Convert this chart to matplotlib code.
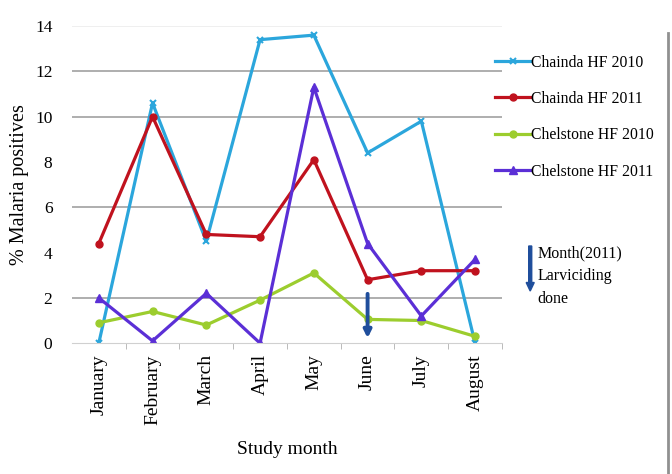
import numpy as np
import matplotlib.pyplot as plt
from matplotlib.lines import Line2D
from matplotlib.patches import FancyArrow

# data
months = ['January', 'February', 'March', 'April', 'May', 'June', 'July', 'August']
chainda_2010 = [0.0, 10.6, 4.5, 13.4, 13.6, 8.4, 9.8, 0.0]
chainda_2011 = [4.4, 10.0, 4.8, 4.7, 8.1, 2.8, 3.2, 3.2]
chelstone_2010 = [0.9, 1.4, 0.8, 1.9, 3.1, 1.05, 1.0, 0.3]
chelstone_2011 = [2.0, 0.1, 2.2, 0.0, 11.3, 4.4, 1.2, 3.7]
yticks = [0, 2, 4, 6, 8, 10, 12, 14]
grid_levels = [2, 6, 10, 12]
larvicide_month = 'June'
larvicide_range = [2.3, 0.1]

plt.rcParams['font.family'] = ['Liberation Serif', 'DejaVu Serif']

fig = plt.figure(figsize=(6.72, 4.74), dpi=100)
ax = fig.add_axes([0.107, 0.276, 0.64, 0.669])

x = np.arange(len(months))

for g in grid_levels:
    ax.axhline(g, color='#a8a8a8', lw=1.3, zorder=0)
ax.axhline(14, color='#eeeeee', lw=1.3, zorder=0)

ax.plot(x, chainda_2010, color='#2ba6dc', lw=2.3, marker='x', ms=5, mew=1.5, label='Chainda HF 2010')
ax.plot(x, chainda_2011, color='#c0121e', lw=2.3, marker='o', ms=5, label='Chainda HF 2011')
ax.plot(x, chelstone_2010, color='#9ccd2e', lw=2.3, marker='o', ms=5, label='Chelstone HF 2010')
ax.plot(x, chelstone_2011, color='#5b2fd6', lw=2.3, marker='^', ms=5.5, label='Chelstone HF 2011')

# larviciding arrow
xi = months.index(larvicide_month)
ax.annotate('', xy=(xi, larvicide_range[1]), xytext=(xi, larvicide_range[0]),
            arrowprops=dict(arrowstyle='-|>', color='#1f4e9c', lw=2.8, mutation_scale=11))

ax.set_xlim(-0.5, len(months) - 0.5)
ax.set_ylim(0, 14)
ax.set_xticks(x)
ax.set_xticklabels(months, rotation=90, fontsize=14)
ax.set_xticks(np.arange(-0.5, len(months), 1)[1:], minor=True)
ax.tick_params(axis='x', which='major', length=0, pad=8)
ax.tick_params(axis='x', which='minor', length=4, color='#b0b0b0')
ax.set_yticks(yticks)
ax.tick_params(axis='y', length=0, labelsize=12.5, pad=14)
for s in ['top', 'right', 'left']:
    ax.spines[s].set_visible(False)
ax.spines['bottom'].set_color('#d0d0d0')

ax.set_ylabel('% Malaria positives', fontsize=14.5, labelpad=4)
ax.set_xlabel('Study month', fontsize=14, labelpad=12)

ax.legend(loc='upper left', bbox_to_anchor=(0.97, 0.93), frameon=False, fontsize=11.3,
          handlelength=2.2, handletextpad=0.1, labelspacing=1.3, borderaxespad=0.0)

# legend note for the arrow
fig.patches.append(FancyArrow(
    0.789, 1 - 246 / 474, 0, -0.095, width=0.0045, head_width=0.012, head_length=0.018,
    color='#1f4e9c', transform=fig.transFigure, length_includes_head=True))
fig.text(0.8, 1 - 245 / 474, 'Month(2011)\nLarviciding\ndone', fontsize=11.5,
         va='top', ha='left', linespacing=1.6)

# right border line
fig.add_artist(Line2D([0.994, 0.994], [0.0, 0.93], color='#909090', lw=2,
                      transform=fig.transFigure))

fig.savefig('out.png', dpi=100)
